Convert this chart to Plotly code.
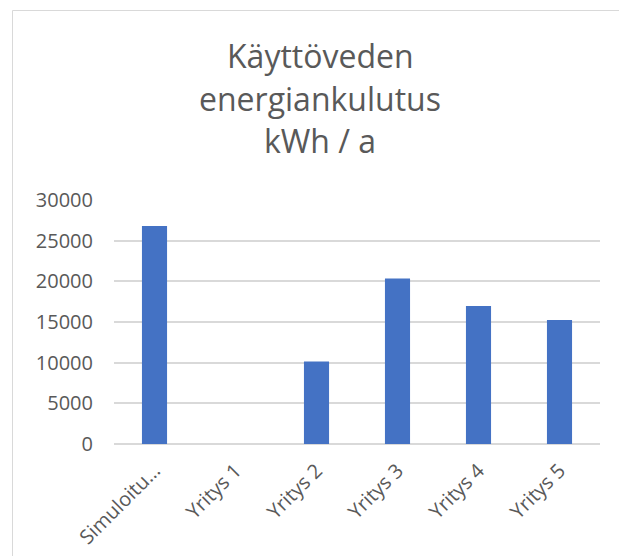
import plotly.graph_objects as go

categories = ["Simuloitu…", "Yritys 1", "Yritys 2", "Yritys 3", "Yritys 4", "Yritys 5"]
values = [26800, None, 10150, 20340, 16970, 15250]
y_ticks = [0, 5000, 10000, 15000, 20000, 25000, 30000]
y_tick_text = ["0", "5000", "10000", "15000", "20000", "25000", "30000"]
title_lines = ["Käyttöveden", "energiankulutus", "kWh / a"]

# page body has an 8px default margin; work in screen pixels and convert
OFF = 8
W, H = 627 - OFF, 556 - OFF
px_left, px_right, px_top, px_bottom = 114, 600, 200, 444  # plot area on screen
L = px_left - OFF
R = W - (px_right - OFF)
T = px_top - OFF
B = H - (px_bottom - OFF)
pw = W - L - R
ph = H - T - B


def xp(sx):
    return (sx - OFF - L) / pw


def yp(sy):
    return (H - B - (sy - OFF)) / ph


grey = "#595959"
fig = go.Figure()
fig.add_trace(go.Bar(x=categories, y=values, marker=dict(color="#4472C4", line=dict(width=0)),
                     hoverinfo="x+y"))

title_mid_y = [55, 98, 141]
annotations = [dict(text=t, xref="paper", yref="paper", x=xp(320), y=yp(sy),
                    xanchor="center", yanchor="middle", showarrow=False,
                    font=dict(family="Open Sans", size=32, color=grey))
               for t, sy in zip(title_lines, title_mid_y)]

fig.update_layout(
    width=W, height=H,
    margin=dict(l=L, r=R, t=T, b=B, autoexpand=False),
    paper_bgcolor="white", plot_bgcolor="white",
    bargap=0.69,
    showlegend=False,
    font=dict(family="Open Sans", color=grey, size=20),
    annotations=annotations,
    shapes=[dict(type="rect", xref="paper", yref="paper",
                 x0=xp(12.5), x1=xp(700), y0=yp(700), y1=yp(10.5),
                 line=dict(color="#d9d9d9", width=1), fillcolor="rgba(0,0,0,0)", layer="below")],
)

fig.update_yaxes(range=[0, 30000], tickvals=y_ticks, ticktext=y_tick_text, showgrid=True,
                 gridcolor="#d9d9d9", gridwidth=1.5, zeroline=True, zerolinecolor="#d9d9d9",
                 zerolinewidth=1.5, showline=False, ticks="", ticklabelstandoff=20,
                 tickfont=dict(family="Open Sans", size=20, color=grey))
fig.update_xaxes(tickangle=-45, showgrid=False, showline=False, ticks="",
                 ticklabelstandoff=10,
                 tickfont=dict(family="Open Sans", size=20, color=grey))

fig.write_html("out.html")
